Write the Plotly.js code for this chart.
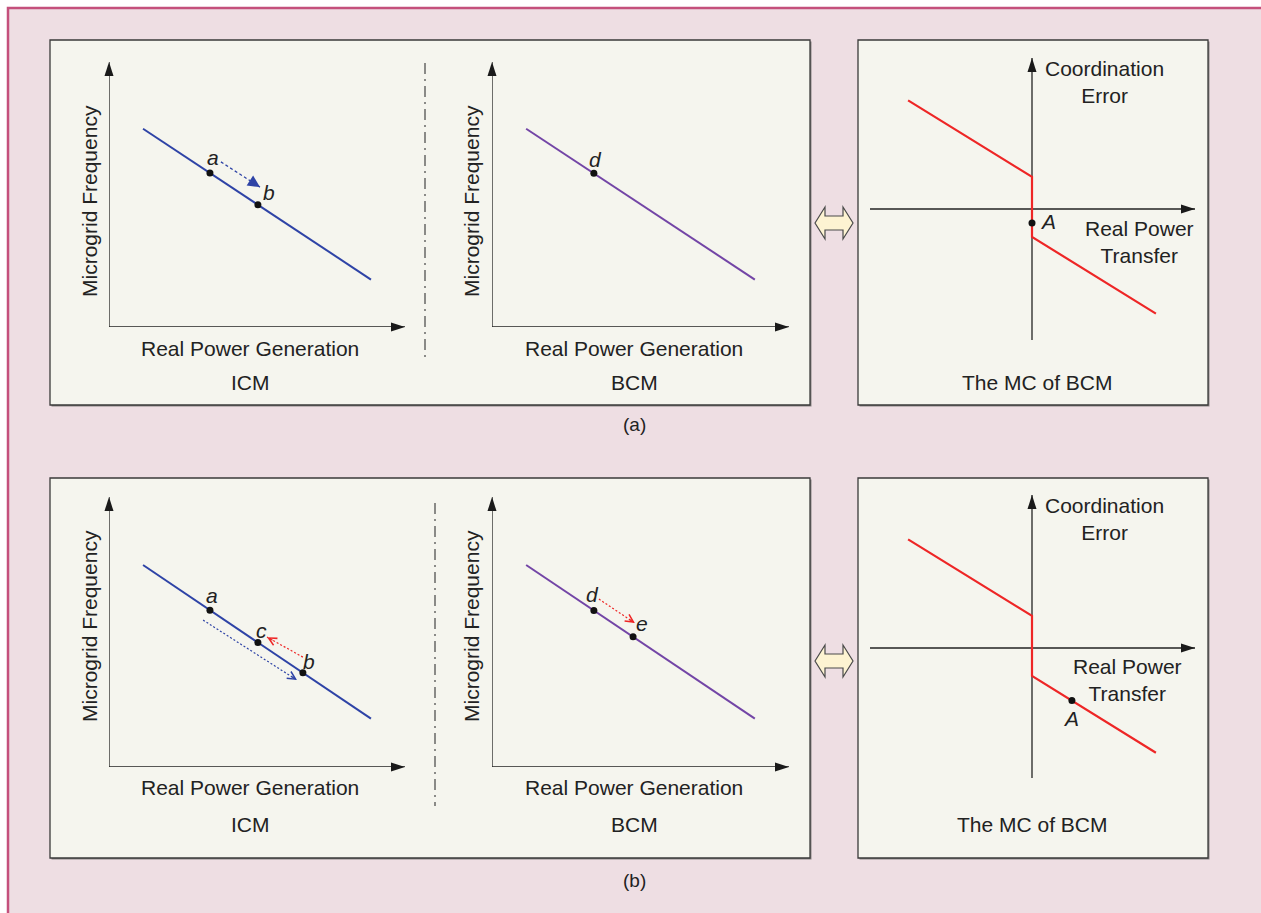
<!DOCTYPE html>
<html>
<head>
<meta charset="utf-8">
<script src="https://cdn.plot.ly/plotly-3.0.1.min.js"></script>
<style>html,body{margin:0;padding:0;background:#fff;}#chart{width:1261px;height:913px;}</style>
</head>
<body>
<div id="chart"></div>
<script>
// ---------------- DATA ----------------
// Droop characteristic (Microgrid Frequency vs Real Power Generation), conceptual units
const droopX = [1.15, 8.85];
const droopY = [7.48, 1.79];
// (a) ICM operating points
const icmTopPtsX = [3.41, 5.03];
const icmTopPtsY = [5.81, 4.61];
const icmTopLabels = ['a', 'b'];
// (a) BCM operating point
const bcmTopPtsX = [3.43];
const bcmTopPtsY = [5.80];
const bcmTopLabels = ['d'];
// (b) ICM operating points
const icmBotPtsX = [3.41, 5.03, 6.55];
const icmBotPtsY = [5.81, 4.61, 3.49];
const icmBotLabels = ['a', 'c', 'b'];
// (b) BCM operating points
const bcmBotPtsX = [3.43, 4.75];
const bcmBotPtsY = [5.80, 4.82];
const bcmBotLabels = ['d', 'e'];
// movement arrows [start, end]
const moveTopIcmX = [3.78, 5.10];
const moveTopIcmY = [6.23, 5.28];
const moveBotIcmBlueX = [3.18, 6.35];
const moveBotIcmBlueY = [5.44, 3.22];
const moveBotIcmRedX = [6.55, 5.34];
const moveBotIcmRedY = [4.07, 4.81];
const moveBotBcmRedX = [3.60, 4.81];
const moveBotBcmRedY = [6.22, 5.33];
// MC of BCM: Coordination Error vs Real Power Transfer
const mcX = [-4.13, 0, 0, 4.13];
const mcY = [3.62, 1.07, -0.93, -3.49];
const mcTopPtX = [0];
const mcTopPtY = [-0.47];
const mcBotPtX = [1.33];
const mcBotPtY = [-1.75];
const pointLabelA = ['A'];

// ---------------- LAYOUT HELPERS ----------------
const W = 1261, H = 913;
const FONT = 'Liberation Sans, Arial, Helvetica, sans-serif';
const FS = 21;
const TXT = '#222';
const BLUE = '#2e43a6', PURPLE = '#7345a6', RED = '#ee2626';
const PX = p => p / W;
const PY = p => 1 - p / H;

// subplot boxes (pixels) and data ranges
const boxes = [
  {l:109, r:405, t:62,  b:327, xr:[0,10], yr:[0,10]},
  {l:492, r:789, t:62,  b:327, xr:[0,10], yr:[0,10]},
  {l:870, r:1195, t:58, b:340, xr:[-5.4,5.433], yr:[-4.367,5.033]},
  {l:109, r:405, t:497, b:767, xr:[0,10], yr:[0,10]},
  {l:492, r:789, t:497, b:767, xr:[0,10], yr:[0,10]},
  {l:870, r:1195, t:495, b:778, xr:[-5.4,5.433], yr:[-4.333,5.1]}
];
function toPx(bx, x, y) {
  return [bx.l + (x - bx.xr[0]) / (bx.xr[1] - bx.xr[0]) * (bx.r - bx.l),
          bx.b - (y - bx.yr[0]) / (bx.yr[1] - bx.yr[0]) * (bx.b - bx.t)];
}
function pathPx(pts) {
  return 'M' + pts.map(p => PX(p[0]).toFixed(5) + ',' + PY(p[1]).toFixed(5)).join('L') + 'Z';
}

const layout = {
  width: W, height: H,
  margin: {l:0, r:0, t:0, b:0},
  paper_bgcolor: '#ffffff',
  plot_bgcolor: 'rgba(0,0,0,0)',
  showlegend: false,
  shapes: [], annotations: []
};
boxes.forEach((bx, i) => {
  const n = i === 0 ? '' : String(i + 1);
  layout['xaxis' + n] = {domain:[PX(bx.l), PX(bx.r)], range:bx.xr, visible:false, fixedrange:true, anchor:'y' + n};
  layout['yaxis' + n] = {domain:[PY(bx.b), PY(bx.t)], range:bx.yr, visible:false, fixedrange:true, anchor:'x' + n};
});

// background and panels
layout.shapes.push({type:'rect', xref:'paper', yref:'paper', x0:PX(8), x1:PX(1275), y0:PY(8), y1:PY(925),
  fillcolor:'#eedee3', line:{color:'#c4507c', width:2.5}, layer:'below'});
[[50,40,810,405],[858,40,1208,405],[50,478,810,858],[858,478,1208,858]].forEach(r => {
  layout.shapes.push({type:'rect', xref:'paper', yref:'paper', x0:PX(r[0]+1.5), x1:PX(r[2]+1.5), y0:PY(r[1]+1.5), y1:PY(r[3]+1.5),
    fillcolor:'#8a8585', line:{width:0}, layer:'below'});
  layout.shapes.push({type:'rect', xref:'paper', yref:'paper', x0:PX(r[0]), x1:PX(r[2]), y0:PY(r[1]), y1:PY(r[3]),
    fillcolor:'#f5f5ee', line:{color:'#3a3a3a', width:1.3}, layer:'below'});
});
// dash-dot separators
layout.shapes.push({type:'line', xref:'paper', yref:'paper', x0:PX(425), x1:PX(425), y0:PY(63), y1:PY(362), layer:'below', line:{color:'#444', width:1.2, dash:'11px,5px,2px,5px'}});
layout.shapes.push({type:'line', xref:'paper', yref:'paper', x0:PX(435), x1:PX(435), y0:PY(503), y1:PY(806), layer:'below', line:{color:'#444', width:1.2, dash:'11px,5px,2px,5px'}});

// double-headed link icons
[223, 661].forEach(c => {
  const pts = [[815,c],[825,c-16],[825,c-7],[843,c-7],[843,c-16],[853,c],[843,c+16],[843,c+7],[825,c+7],[825,c+16]];
  layout.shapes.push({type:'path', xref:'paper', yref:'paper', path:pathPx(pts), fillcolor:'#fdf3d2', line:{color:'#4a4a4a', width:1.2}});
});

// axes with arrowheads (drawn under the traces)
function arrowUp(tx, ty) { return pathPx([[tx,ty],[tx-4.5,ty+14],[tx+4.5,ty+14]]); }
function arrowRight(tx, ty) { return pathPx([[tx,ty],[tx-14,ty-4.5],[tx-14,ty+4.5]]); }
boxes.forEach((bx, i) => {
  const n = i === 0 ? '' : String(i + 1);
  const isMC = (i === 2 || i === 5);
  let h0, h1, v0, v1;
  if (isMC) { h0 = [bx.xr[0],0]; h1 = [bx.xr[1],0]; v0 = [0,bx.yr[0]]; v1 = [0,bx.yr[1]]; }
  else { h0 = [0,0]; h1 = [10,0]; v0 = [0,0]; v1 = [0,10]; }
  const ph1 = toPx(bx, h1[0], h1[1]), pv1 = toPx(bx, v1[0], v1[1]);
  layout.shapes.push({type:'line', xref:'x'+n, yref:'y'+n, x0:h0[0], y0:h0[1], x1:h1[0], y1:h1[1], layer:'below', line:{color:'#222', width:1.3}});
  layout.shapes.push({type:'line', xref:'x'+n, yref:'y'+n, x0:v0[0], y0:v0[1], x1:v1[0], y1:v1[1], layer:'below', line:{color:'#222', width:1.3}});
  layout.shapes.push({type:'path', xref:'paper', yref:'paper', path:arrowRight(ph1[0], ph1[1]), fillcolor:'#1a1a1a', line:{width:0}});
  layout.shapes.push({type:'path', xref:'paper', yref:'paper', path:arrowUp(pv1[0], pv1[1]), fillcolor:'#1a1a1a', line:{width:0}});
});

// text helper
function txt(x, y, text, extra) {
  layout.annotations.push(Object.assign({xref:'paper', yref:'paper', x:PX(x), y:PY(y), text:text, showarrow:false,
    xanchor:'center', yanchor:'middle', font:{family:FONT, size:FS, color:TXT}}, extra || {}));
}
[[89,201],[471,201],[89,626],[471,626]].forEach(p => txt(p[0], p[1], 'Microgrid Frequency', {textangle:-90}));
[[250,348],[634,348],[250,787],[634,787]].forEach(p => txt(p[0], p[1], 'Real Power Generation'));
txt(250,382,'ICM'); txt(634,382,'BCM'); txt(1037,382,'The MC of BCM');
txt(250,824,'ICM'); txt(634,824,'BCM'); txt(1032,824,'The MC of BCM');
txt(634,424,'(a)', {font:{family:FONT, size:19, color:TXT}});
txt(634,880,'(b)', {font:{family:FONT, size:19, color:TXT}});
txt(1104,82,'Coordination<br>Error');
txt(1104,519,'Coordination<br>Error');
txt(1139,242,'Real Power<br>Transfer');
txt(1127,680,'Real Power<br>Transfer');

// ---------------- TRACES ----------------
const traces = [];
function line(xs, ys, n, color, width, dash) {
  traces.push({type:'scatter', mode:'lines', x:xs, y:ys, xaxis:'x'+n, yaxis:'y'+n,
    line:{color:color, width:width, dash:dash || 'solid'}, hoverinfo:'skip'});
}
function pts(xs, ys, n, labels, shifts) {
  traces.push({type:'scatter', mode:'markers', x:xs, y:ys, xaxis:'x'+n, yaxis:'y'+n,
    marker:{color:'#111', size:7}, hoverinfo:'skip', cliponaxis:false});
  xs.forEach((x, i) => {
    layout.annotations.push({xref:'x'+n, yref:'y'+n, x:x, y:ys[i], text:'<i>' + labels[i] + '</i>', showarrow:false,
      xshift:shifts[i][0], yshift:shifts[i][1], xanchor:'center', yanchor:'middle', font:{family:FONT, size:FS, color:TXT}});
  });
}
function head(xs, ys, n, color, style, size) {
  const b0 = boxes[n === '' ? 0 : Number(n) - 1];
  const p0 = toPx(b0, xs[0], ys[0]), p1 = toPx(b0, xs[1], ys[1]);
  const dx = p1[0] - p0[0], dy = p1[1] - p0[1], L = Math.hypot(dx, dy);
  layout.annotations.push({xref:'x'+n, yref:'y'+n, x:xs[1], y:ys[1], ax:-dx/L*8, ay:-dy/L*8, text:'', showarrow:true,
    arrowhead:style, arrowsize:size, arrowwidth:1.2, arrowcolor:color});
}

// (a) ICM
line(droopX, droopY, '', BLUE, 2);
line(moveTopIcmX, moveTopIcmY, '', BLUE, 1.3, '3px,2.5px');
head(moveTopIcmX, moveTopIcmY, '', BLUE, 2, 2.0);
pts(icmTopPtsX, icmTopPtsY, '', icmTopLabels, [[3,16],[11,12]]);
// (a) BCM
line(droopX, droopY, '2', PURPLE, 2);
pts(bcmTopPtsX, bcmTopPtsY, '2', bcmTopLabels, [[2,14]]);
// (a) MC
line(mcX, mcY, '3', RED, 2.2);
pts(mcTopPtX, mcTopPtY, '3', pointLabelA, [[16,2]]);
// (b) ICM
line(droopX, droopY, '4', BLUE, 2);
line(moveBotIcmBlueX, moveBotIcmBlueY, '4', BLUE, 1.2, '2px,2px');
head(moveBotIcmBlueX, moveBotIcmBlueY, '4', BLUE, 5, 1.3);
line(moveBotIcmRedX, moveBotIcmRedY, '4', RED, 1.2, '2px,2px');
head(moveBotIcmRedX, moveBotIcmRedY, '4', RED, 5, 1.3);
pts(icmBotPtsX, icmBotPtsY, '4', icmBotLabels, [[2,15],[4,12],[6,11]]);
// (b) BCM
line(droopX, droopY, '5', PURPLE, 2);
line(moveBotBcmRedX, moveBotBcmRedY, '5', RED, 1.2, '2px,2px');
head(moveBotBcmRedX, moveBotBcmRedY, '5', RED, 5, 1.3);
pts(bcmBotPtsX, bcmBotPtsY, '5', bcmBotLabels, [[-1,16],[9,13]]);
// (b) MC
line(mcX, mcY, '6', RED, 2.2);
pts(mcBotPtX, mcBotPtY, '6', pointLabelA, [[-1,-18]]);

Plotly.newPlot('chart', traces, layout, {displayModeBar:false, staticPlot:true});
</script>
</body>
</html>
